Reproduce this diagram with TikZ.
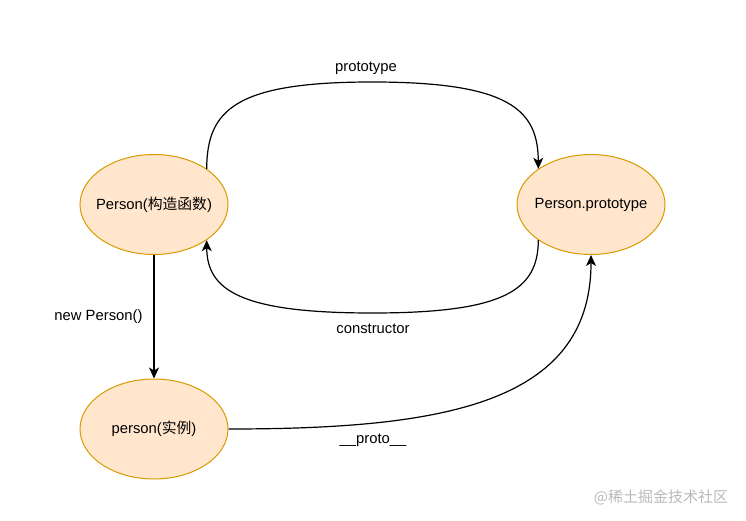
\documentclass[tikz,border=0pt]{standalone}
\usepackage{fontspec}
\setmainfont{Liberation Sans}
\newfontfamily\cjk{Noto Sans CJK SC}
\usetikzlibrary{shapes.geometric,arrows.meta}
\definecolor{objfill}{HTML}{FFE6CC}
\definecolor{objline}{HTML}{D79B00}
\begin{document}
\begin{tikzpicture}[x=1pt,y=-1pt,font=\fontsize{14.8}{17}\selectfont,
  obj/.style={ellipse,draw=objline,fill=objfill,line width=1pt,minimum width=148pt,minimum height=100pt,inner sep=0pt},
  link/.style={-{Stealth[length=11pt,width=10pt,inset=3pt]},line width=1.2pt}]
\useasboundingbox (0,0) rectangle (746,521);
%objects
\node[obj,label=center:{Person({\cjk 构造函数})}] (ctor) at (154,204.5) {};
\node[obj,label=center:{Person.prototype}] (proto) at (591,204.5) {};
\node[obj,label=center:{person({\cjk 实例})}] (inst) at (154,429) {};
%links
\draw[link] (ctor.north east) .. controls (207,110) and (235,82) .. (372,82) .. controls (510,82) and (538,110) .. (proto.north west); %prototype
\draw[link] (proto.south west) .. controls (538,290) and (505,313) .. (372,313) .. controls (240,313) and (207,290) .. (ctor.south east); %constructor
\draw[link] (ctor.south) -- (inst.north); %new
\draw[link] (inst.east) .. controls (440,429) and (591,405) .. (proto.south); %__proto__
%labels
\node (lprototype) at (366,68) {prototype};
\node (lconstructor) at (373,329) {constructor};
\node (lnew) at (98.5,317) {new Person()};
\node (lproto) at (373,440) {\_\_proto\_\_};
\node[text=gray!55,font=\cjk\fontsize{15}{17}\selectfont] (mark) at (661,497) {@稀土掘金技术社区};
\end{tikzpicture}
\end{document}
